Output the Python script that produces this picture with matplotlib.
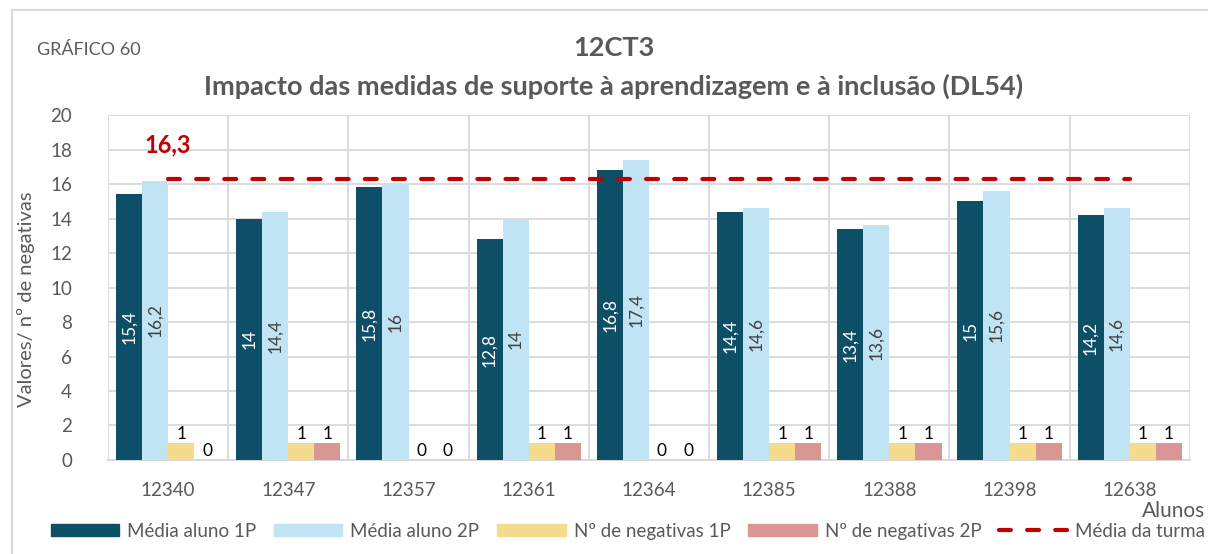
import matplotlib.pyplot as plt
import matplotlib.patches as mpatches
from matplotlib.lines import Line2D
import numpy as np

plt.rcParams['font.family'] = ['Lato', 'DejaVu Sans']

# Data
alunos = ["12340", "12347", "12357", "12361", "12364", "12385", "12388", "12398", "12638"]
media_1p = [15.4, 14, 15.8, 12.8, 16.8, 14.4, 13.4, 15, 14.2]
media_2p = [16.2, 14.4, 16, 14, 17.4, 14.6, 13.6, 15.6, 14.6]
neg_1p = [1, 1, 0, 1, 0, 1, 1, 1, 1]
neg_2p = [0, 1, 0, 1, 0, 1, 1, 1, 1]
media_turma = 16.3

colors = {
    "dark": "#0E4F68",
    "light": "#C1E4F5",
    "yellow": "#F5DC8C",
    "pink": "#DA9694",
    "red": "#C00000",
    "text": "#595959",
    "grid": "#D9D9D9",
}
dash = (0, (2.85, 3.9))


def fmt(v):
    s = f"{v:g}"
    return s.replace(".", ",")


fig = plt.figure(figsize=(12.08, 5.54), dpi=100)
ax = fig.add_axes([0.0894, 0.1697, 0.8956, 0.6226])

x = np.arange(len(alunos))
w = 0.217
offsets = [-1.5 * w, -0.5 * w, 0.5 * w, 1.5 * w]

b1 = ax.bar(x + offsets[0], media_1p, w, color=colors["dark"], zorder=3)
b2 = ax.bar(x + offsets[1], media_2p, w, color=colors["light"], zorder=3)
b3 = ax.bar(x + offsets[2], neg_1p, w, color=colors["yellow"], zorder=3)
b4 = ax.bar(x + offsets[3], neg_2p, w, color=colors["pink"], zorder=3)

# value labels inside the average bars
for bars, vals, c in [(b1, media_1p, "white"), (b2, media_2p, "#404040")]:
    for r, v in zip(bars, vals):
        ax.text(r.get_x() + r.get_width() / 2, v / 2, fmt(v), rotation=90,
                ha="center", va="center", color=c, fontsize=12.5, zorder=4)

# counts above the negatives bars
for bars, vals in [(b3, neg_1p), (b4, neg_2p)]:
    for r, v in zip(bars, vals):
        ax.text(r.get_x() + r.get_width() / 2, v + 0.05, fmt(v),
                ha="center", va="bottom", color="black", fontsize=12.5, zorder=4)

# class average line
ax.plot([0, 8], [media_turma, media_turma], color=colors["red"],
        lw=3, ls=dash, dash_capstyle="round", zorder=5)
ax.text(0, 18.25, fmt(media_turma), color=colors["red"], fontsize=17,
        fontweight="bold", ha="center", va="center")

ax.set_xlim(-0.5, 8.5)
ax.set_ylim(0, 20)
ax.set_yticks(range(0, 21, 2))
ax.set_xticks(x)
ax.set_xticklabels(alunos)
ax.tick_params(axis="both", length=0, labelsize=13.5, colors=colors["text"])
ax.tick_params(axis="x", pad=16)
ax.tick_params(axis="y", pad=26)

ax.set_axisbelow(True)
ax.yaxis.grid(True, color=colors["grid"], lw=1.3)
for b in np.arange(-0.5, 9, 1):
    ax.axvline(b, color=colors["grid"], lw=1.3, zorder=0)
for s in ["top", "right", "left"]:
    ax.spines[s].set_visible(False)
ax.spines["bottom"].set_color(colors["grid"])
ax.spines["bottom"].set_linewidth(1.5)

fig.text(0.0215, 0.46, "Valores/ nº de negativas", rotation=90, fontsize=14.5,
         color=colors["text"], ha="center", va="center")
fig.text(0.9975, 0.078, "Alunos", ha="right", va="center", fontsize=15, color=colors["text"])

fig.text(0.031, 0.91, "GRÁFICO 60", fontsize=13, color=colors["text"], va="center")
fig.text(0.508, 0.913, "12CT3", fontsize=19.5, fontweight="bold", color=colors["text"],
         ha="center", va="center")
fig.text(0.508, 0.845, "Impacto das medidas de suporte à aprendizagem e à inclusão (DL54)",
         fontsize=19.5, fontweight="bold", color=colors["text"], ha="center", va="center")

handles = [
    mpatches.Patch(color=colors["dark"], label="Média aluno 1P"),
    mpatches.Patch(color=colors["light"], label="Média aluno 2P"),
    mpatches.Patch(color=colors["yellow"], label="Nº de negativas 1P"),
    mpatches.Patch(color=colors["pink"], label="Nº de negativas 2P"),
    Line2D([0], [0], color=colors["red"], lw=3, ls=dash, dash_capstyle="round",
           label="Média da turma"),
]
leg = fig.legend(handles=handles, loc="center", bbox_to_anchor=(0.52, 0.041), ncol=5,
                 frameon=False, fontsize=13.5, handlelength=3.63, handleheight=0.64,
                 columnspacing=0.96, handletextpad=0.43, borderpad=0, borderaxespad=0)
for t in leg.get_texts():
    t.set_color(colors["text"])

# chart frame
fig.patches.append(mpatches.Rectangle((0.01, -0.1), 1.2, 1.082, transform=fig.transFigure,
                                      fill=False, edgecolor="#D9D9D9", lw=1.5))

fig.savefig("out.png", dpi=100)
